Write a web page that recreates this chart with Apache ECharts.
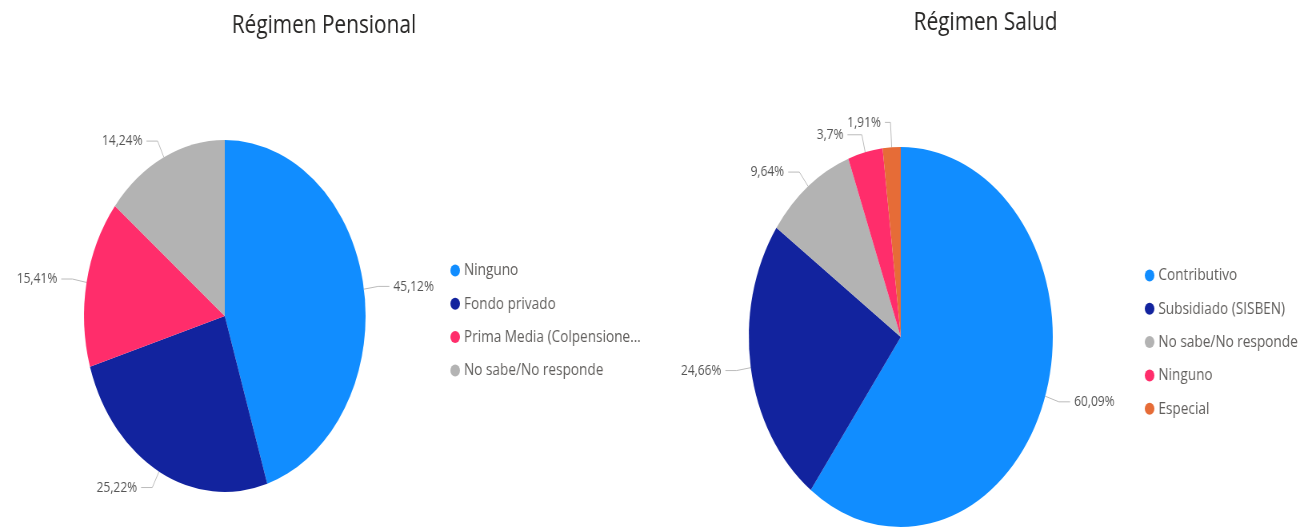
<!DOCTYPE html>
<html><head><meta charset="utf-8">
<script src="https://cdn.jsdelivr.net/npm/echarts@6/dist/echarts.min.js"></script>
<style>
html,body{margin:0;padding:0;background:#fff;overflow:hidden;}
#wrap{width:1306px;height:529px;overflow:hidden;}
#chart{width:1633px;height:529px;transform:scaleX(0.8);transform-origin:0 0;}
</style></head>
<body><div id="wrap"><div id="chart"></div></div>
<script>
const pensionCategories = ['Ninguno','Fondo privado','Prima Media (Colpensiones)','No sabe/No responde'];
const pensionValues = [45.12, 25.22, 15.41, 14.24];
const pensionColors = ['#118DFF','#12239E','#FF2D6B','#B3B3B3'];

const saludCategories = ['Contributivo','Subsidiado (SISBEN)','No sabe/No responde','Ninguno','Especial'];
const saludValues = [60.09, 24.66, 9.64, 3.7, 1.91];
const saludColors = ['#118DFF','#12239E','#B3B3B3','#FF2D6B','#E66C37'];

const FONT = '"Open Sans", "Noto Sans", sans-serif';
const MAX_LEGEND_CHARS = 24;

function lineFor(value){
  // small slices at the top get a longer radial leader, as in the reference
  if (value < 2) return {length:25, length2:7};
  if (value < 5) return {length:18, length2:18};
  return {length:18, length2:14};
}
function toData(cats, vals, cols){
  return cats.map((c,i)=>({name:c, value:vals[i], itemStyle:{color:cols[i]}, labelLine:lineFor(vals[i])}));
}
function legendData(cats, cols){
  return cats.map((c,i)=>({name:c, itemStyle:{color:cols[i]}}));
}
const labelCfg = {
  show:true, position:'outside', color:'#555', fontSize:15, fontFamily:FONT,
  formatter: p => String(p.value).replace('.', ',') + '%'
};
const lineCfg = {show:true, length:18, length2:14, lineStyle:{color:'#bbb', width:1}, smooth:false};
const legendFmt = n => n.length > MAX_LEGEND_CHARS ? n.slice(0, MAX_LEGEND_CHARS) + '...' : n;

const chart = echarts.init(document.getElementById('chart'), null, {renderer:'canvas'});
chart.setOption({
  animation:false,
  title:[
    {text:'Régimen Pensional', left:400, top:8, textAlign:'center',
     textStyle:{fontFamily:FONT, fontSize:26, fontWeight:'normal', color:'#252423'}},
    {text:'Régimen Salud', left:1227, top:5, textAlign:'center',
     textStyle:{fontFamily:FONT, fontSize:26, fontWeight:'normal', color:'#252423'}}
  ],
  legend:[
    {data:legendData(pensionCategories, pensionColors), orient:'vertical', left:558, top:257, itemGap:16.3,
     icon:'circle', itemWidth:12, itemHeight:13, formatter:legendFmt,
     textStyle:{fontFamily:FONT, fontSize:17, color:'#605E5C'}},
    {data:legendData(saludCategories, saludColors), orient:'vertical', left:1426, top:262, itemGap:16.3,
     icon:'circle', itemWidth:12, itemHeight:13,
     textStyle:{fontFamily:FONT, fontSize:17, color:'#605E5C'}}
  ],
  series:[
    {type:'pie', name:'Régimen Pensional', center:[281,316], radius:176,
     startAngle:90, clockwise:true, avoidLabelOverlap:false, labelLayout:{hideOverlap:false},
     label:labelCfg, labelLine:lineCfg,
     data:toData(pensionCategories, pensionValues, pensionColors)},
    {type:'pie', name:'Régimen Salud', center:[1126,337], radius:190,
     startAngle:90, clockwise:true, avoidLabelOverlap:false, labelLayout:{hideOverlap:false},
     label:labelCfg, labelLine:lineCfg,
     data:toData(saludCategories, saludValues, saludColors)}
  ]
});
</script></body></html>
